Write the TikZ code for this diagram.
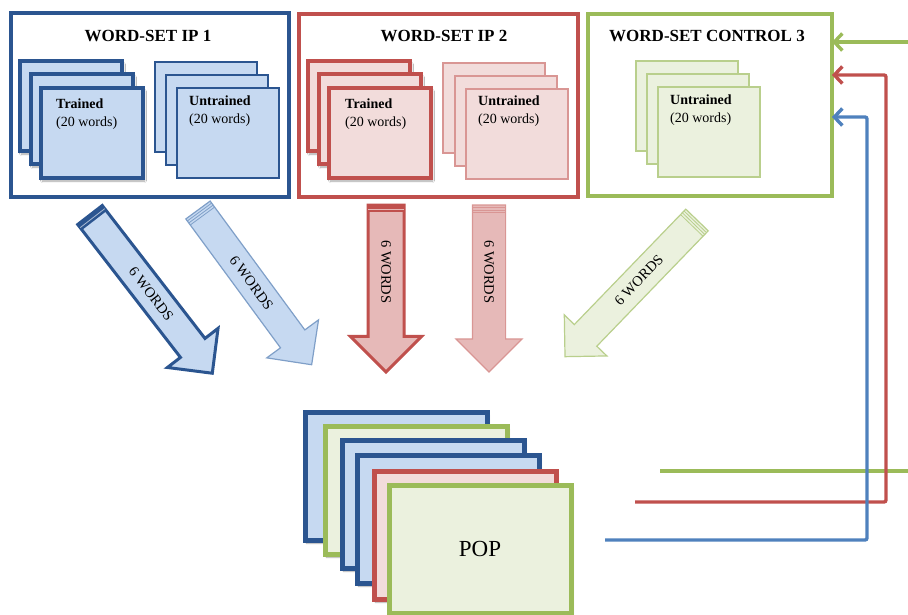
\documentclass[tikz,border=0pt]{standalone}
\usepackage{fontspec}
\setmainfont{Liberation Serif}
\usetikzlibrary{shapes.arrows,calc,arrows.meta,shadows.blur}

\definecolor{navy}{HTML}{2B5590}
\definecolor{ltblue}{HTML}{C6D9F1}
\definecolor{midblue}{HTML}{4F81BD}
\definecolor{paleblueline}{HTML}{7F9FC8}
\definecolor{brick}{HTML}{C0504D}
\definecolor{pinkfill}{HTML}{F2DCDB}
\definecolor{rose}{HTML}{E6B9B8}
\definecolor{paleredline}{HTML}{D99694}
\definecolor{olive}{HTML}{9BBB59}
\definecolor{ltgreen}{HTML}{EBF1DE}
\definecolor{palegreenline}{HTML}{B9CF8C}

\tikzset{
  frame/.style={draw=#1, line width=3.5pt, fill=white, inner sep=0pt, outer sep=0pt, anchor=north west},
  softshadow/.style={blur shadow={shadow xshift=1.5pt, shadow yshift=-3pt, shadow blur steps=6, shadow opacity=35}},
  heavycard/.style={draw=#1, line width=3.6pt, inner sep=0pt, outer sep=0pt, anchor=north west,
    minimum width=102pt, minimum height=90pt, softshadow},
  lightcard/.style={draw=#1, line width=1.3pt, inner sep=0pt, outer sep=0pt, anchor=north west,
    minimum width=102pt, minimum height=90pt},
  popcard/.style={draw=#1, line width=5pt, inner sep=0pt, outer sep=0pt, anchor=north west,
    minimum width=182pt, minimum height=128pt, softshadow},
  settitle/.style={font=\fontsize{17}{19}\selectfont\bfseries, inner sep=0pt},
  cardlbl/.style={font=\fontsize{14}{18}\selectfont, align=left, anchor=north west, inner sep=0pt},
  blockarrow/.style={single arrow, anchor=tail, inner xsep=0pt, outer sep=0pt, minimum width=0pt},
  wordlbl/.style={font=\fontsize{14.5}{16}\selectfont, inner sep=0pt},
  feedback/.style={line width=3.4pt, rounded corners=2pt, -{Straight Barb[length=8pt,width=17pt]}},
}

\begin{document}
\begin{tikzpicture}[x=1pt,y=-1pt]
\useasboundingbox (0,0) rectangle (908,615);

% ---------- word-set IP 1 ----------
\node[frame=navy, line width=4pt, minimum width=278pt, minimum height=184pt] (ip1) at (11,13) {};
\node[settitle] (ip1title) at (148,36) {WORD-SET IP 1};
\node[heavycard=navy, fill=ltblue] (ip1ta) at (20,61) {};
\node[heavycard=navy, fill=ltblue] (ip1tb) at (31,74) {};
\node[heavycard=navy, fill=ltblue] (ip1tc) at (41,88) {};
\node[cardlbl] (ip1tl) at (56,99) {\textbf{Trained}\\(20 words)};
\node[lightcard=navy, fill=ltblue] (ip1ua) at (155,62) {};
\node[lightcard=navy, fill=ltblue] (ip1ub) at (166,75) {};
\node[lightcard=navy, fill=ltblue] (ip1uc) at (177,88) {};
\node[cardlbl] (ip1ul) at (189,96) {\textbf{Untrained}\\(20 words)};

% ---------- word-set IP 2 ----------
\node[frame=brick, minimum width=279pt, minimum height=183pt] (ip2) at (299,14) {};
\node[settitle] (ip2title) at (444,36) {WORD-SET IP 2};
\node[heavycard=brick, fill=pinkfill] (ip2ta) at (308,61) {};
\node[heavycard=brick, fill=pinkfill] (ip2tb) at (319,74) {};
\node[heavycard=brick, fill=pinkfill] (ip2tc) at (329,88) {};
\node[cardlbl] (ip2tl) at (345,99) {\textbf{Trained}\\(20 words)};
\node[lightcard=paleredline, fill=pinkfill] (ip2ua) at (443,63) {};
\node[lightcard=paleredline, fill=pinkfill] (ip2ub) at (455,76) {};
\node[lightcard=paleredline, fill=pinkfill] (ip2uc) at (466,89) {};
\node[cardlbl] (ip2ul) at (478,96) {\textbf{Untrained}\\(20 words)};

% ---------- word-set control 3 ----------
\node[frame=olive, minimum width=244pt, minimum height=182pt] (ctrl) at (588,14) {};
\node[settitle] (ctrltitle) at (707,36) {WORD-SET CONTROL 3};
\node[lightcard=palegreenline, fill=ltgreen] (ctrlua) at (636,61) {};
\node[lightcard=palegreenline, fill=ltgreen] (ctrlub) at (647,74) {};
\node[lightcard=palegreenline, fill=ltgreen] (ctrluc) at (658,87) {};
\node[cardlbl] (ctrlul) at (670,95) {\textbf{Untrained}\\(20 words)};

% ---------- block arrows carrying six words each ----------
\node[blockarrow, draw=navy, line width=3pt, fill=ltblue, rotate=-52.3,
  minimum height=200pt, inner ysep=14pt, single arrow head extend=16.5pt] (a1) at (90,215) {};
\node[blockarrow, draw=paleblueline, line width=1.2pt, fill=ltblue, rotate=-53.7,
  minimum height=192pt, inner ysep=14.5pt, single arrow head extend=17pt] (a2) at (198,210) {};
\node[blockarrow, draw=brick, line width=3pt, fill=rose, rotate=-90,
  minimum height=167pt, inner ysep=16.5pt, single arrow head extend=17.5pt] (a3) at (386,205) {};
\node[blockarrow, draw=paleredline, line width=1.2pt, fill=rose, rotate=-90,
  minimum height=167pt, inner ysep=16pt, single arrow head extend=16.5pt] (a4) at (489,205) {};
\node[blockarrow, draw=palegreenline, line width=1.2pt, fill=ltgreen, rotate=-134,
  minimum height=190pt, inner ysep=15pt, single arrow head extend=14pt] (a5) at (697,220) {};

% bevelled tail ends
\foreach \a/\c in {a1/navy,a3/brick}{
  \fill[\c] (\a.before tail) -- (\a.after tail) -- ($(\a.after tail)!7pt!(\a.before head)$)
    -- ($(\a.before tail)!7pt!(\a.after head)$) -- cycle;
  \draw[white!60!\c, line width=0.8pt] ($(\a.after tail)!4pt!(\a.before head)$)
    -- ($(\a.before tail)!4pt!(\a.after head)$);
}
\foreach \a/\c in {a2/paleblueline,a4/paleredline,a5/palegreenline}{
  \foreach \d in {2.5pt,5pt,7.5pt}{
    \draw[\c, line width=0.8pt] ($(\a.after tail)!\d!(\a.before head)$)
      -- ($(\a.before tail)!\d!(\a.after head)$);
  }
}

\node[wordlbl, rotate=-52.3] (a1t) at ($(a1.tail)!0.5!(a1.tip)$) {6 WORDS};
\node[wordlbl, rotate=-53.7] (a2t) at ($(a2.tail)!0.47!(a2.tip)$) {6 WORDS};
\node[wordlbl, rotate=-90] (a3t) at ($(a3.tail)!0.4!(a3.tip)$) {6 WORDS};
\node[wordlbl, rotate=-90] (a4t) at ($(a4.tail)!0.4!(a4.tip)$) {6 WORDS};
\node[wordlbl, rotate=46] (a5t) at ($(a5.tail)!0.44!(a5.tip)$) {6 WORDS};

% ---------- POP stack ----------
\node[popcard=navy, fill=ltblue] (pop1) at (305,412) {};
\node[popcard=olive, fill=ltgreen] (pop2) at (325,426) {};
\node[popcard=navy, fill=ltblue] (pop3) at (342,440) {};
\node[popcard=navy, fill=ltblue] (pop4) at (357,455) {};
\node[popcard=brick, fill=pinkfill] (pop5) at (374,471) {};
\node[popcard=olive, fill=ltgreen] (pop6) at (389,485) {};
\node[font=\fontsize{23}{26}\selectfont, inner sep=0pt] (poplbl) at (pop6.center) {POP};

% ---------- feedback lines ----------
\coordinate (gtop) at (908,42);
\draw[feedback, olive] (gtop) -- (gtop -| ctrl.east);
\coordinate (gs) at (660,471);
\coordinate (ge) at (908,471);
\draw[line width=3.4pt, olive] (gs) -- (ge);
\coordinate (rs) at (635,502);
\coordinate (rk) at (886,75);
\draw[feedback, brick] (rs) -| (rk) -- (rk -| ctrl.east);
\coordinate (bs) at (605,540);
\coordinate (bk) at (867,117);
\draw[feedback, midblue] (bs) -| (bk) -- (bk -| ctrl.east);
\end{tikzpicture}
\end{document}
